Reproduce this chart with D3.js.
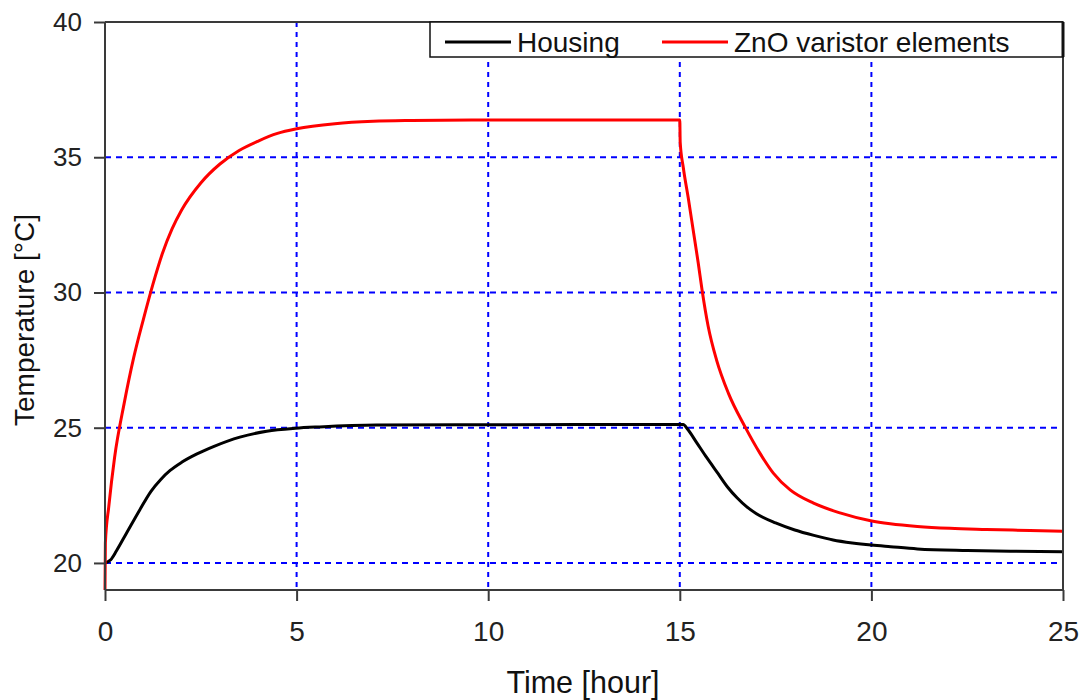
<!DOCTYPE html>
<html>
<head>
<meta charset="utf-8">
<script src="https://cdn.jsdelivr.net/npm/d3@7"></script>
<style>
  html, body { margin: 0; padding: 0; background: #fff; }
  svg { display: block; font-family: Arial, "Liberation Sans", sans-serif; }
</style>
</head>
<body>
<svg id="chart" width="1083" height="700"></svg>
<script>
// Housing temperature (°C) over time (hours)
const housingTime = [0, 0.15, 0.3, 0.56, 0.91, 1.2, 1.45, 1.7, 2.0, 2.4, 2.83, 3.52, 4.22, 4.97, 5.6, 7.08, 10, 15.09,
  15.2, 15.44, 15.7, 16.0, 16.25, 16.5, 16.75, 17.0, 17.5, 18.0, 18.5, 19.0, 19.5, 20.0, 20.5, 21.2, 22.5, 23.7, 25];
const housingTemp = [20.0, 20.12, 20.45, 21.1, 21.97, 22.65, 23.08, 23.42, 23.72, 24.03, 24.3, 24.65, 24.87, 24.98, 25.03, 25.1, 25.11, 25.12,
  24.95, 24.45, 23.9, 23.3, 22.8, 22.4, 22.07, 21.82, 21.48, 21.22, 21.02, 20.85, 20.74, 20.66, 20.6, 20.52, 20.46, 20.43, 20.41];

// ZnO varistor element temperature (°C) over time (hours)
const varistorTime = [0, 0.01, 0.1, 0.25, 0.5, 0.75, 1.0, 1.25, 1.5, 1.75, 2.0, 2.5, 3.0, 3.5, 4.0, 4.5, 5.0, 6.0, 7.0, 8.0, 10, 15.0,
  15.01, 15.09, 15.22, 15.35, 15.48, 15.58, 15.74, 15.96, 16.27, 16.7, 17.09, 17.44, 17.88, 18.49, 19.18, 19.98, 20.49, 21.2, 22.05, 23.0, 24.14, 25];
const varistorTemp = [19.0, 20.74, 22.1, 23.9, 25.9, 27.6, 29.0, 30.3, 31.45, 32.35, 33.05, 34.05, 34.75, 35.25, 35.6, 35.88, 36.05, 36.24, 36.33, 36.36, 36.38, 36.38,
  35.56, 34.63, 33.5, 32.3, 31.1, 30.1, 28.75, 27.5, 26.27, 25.04, 24.06, 23.32, 22.7, 22.21, 21.85, 21.56, 21.45, 21.35, 21.28, 21.24, 21.2, 21.17];

const xTicks = [0, 5, 10, 15, 20, 25];
const yTicks = [20, 25, 30, 35, 40];
const seriesNames = ["Housing", "ZnO varistor elements"];
const seriesColors = ["#000000", "#ff0000"];

const svg = d3.select("#chart");
const margin = { left: 105, top: 22, right: 20, bottom: 110 };
const W = 1083 - margin.left - margin.right;
const H = 700 - margin.top - margin.bottom;

const x = d3.scaleLinear().domain([0, 25]).range([0, W]);
const y = d3.scaleLinear().domain([19, 40]).range([H, 0]);

const g = svg.append("g").attr("transform", `translate(${margin.left},${margin.top})`);
const axisColor = "#3a3a3a";

// dashed blue grid
const grid = g.append("g");
grid.selectAll("line.h").data(yTicks.filter(d => d < 40)).enter().append("line")
  .attr("x1", 0).attr("x2", W).attr("y1", d => y(d)).attr("y2", d => y(d))
  .attr("stroke", "#0000ff").attr("stroke-width", 2).attr("stroke-dasharray", "6,5");
grid.selectAll("line.v").data(xTicks.filter(d => d > 0 && d < 25)).enter().append("line")
  .attr("x1", d => x(d)).attr("x2", d => x(d)).attr("y1", 0).attr("y2", H)
  .attr("stroke", "#0000ff").attr("stroke-width", 2).attr("stroke-dasharray", "5,5");

// temperature curves
const line = d3.line().x(d => x(d[0])).y(d => y(d[1])).curve(d3.curveMonotoneX);
const housing = housingTime.map((t, i) => [t, housingTemp[i]]);
const varistor = varistorTime.map((t, i) => [t, varistorTemp[i]]);

g.append("path").datum(housing).attr("d", line)
  .attr("fill", "none").attr("stroke", seriesColors[0]).attr("stroke-width", 3);
g.append("path").datum(varistor).attr("d", line)
  .attr("fill", "none").attr("stroke", seriesColors[1]).attr("stroke-width", 3);

// axes
const xAxis = d3.axisBottom(x).tickValues(xTicks).tickSize(11).tickSizeOuter(0).tickPadding(20);
const yAxis = d3.axisLeft(y).tickValues(yTicks).tickSize(11).tickSizeOuter(0).tickPadding(12);

const gx = g.append("g").attr("transform", `translate(0,${H})`).call(xAxis);
const gy = g.append("g").call(yAxis);
[gx, gy].forEach(a => {
  a.select(".domain").remove();
  a.selectAll(".tick line").attr("stroke", axisColor).attr("stroke-width", 2);
  a.selectAll(".tick text").attr("fill", "#222").style("font-family", "Arial, 'Liberation Sans', sans-serif");
});
gx.selectAll(".tick text").attr("font-size", 28);
gy.selectAll(".tick text").attr("font-size", 26);

// plot frame
const frame = g.append("g").attr("stroke", axisColor).attr("stroke-width", 2).attr("fill", "none");
frame.append("line").attr("x1", 0).attr("x2", 0).attr("y1", 0).attr("y2", H);
frame.append("line").attr("x1", 0).attr("x2", W).attr("y1", H).attr("y2", H);
frame.append("line").attr("x1", 0).attr("x2", W).attr("y1", 0).attr("y2", 0);
frame.append("line").attr("x1", W).attr("x2", W).attr("y1", 0).attr("y2", H);

// axis titles
svg.append("text").attr("x", margin.left + W / 2 - 1).attr("y", 693)
  .attr("text-anchor", "middle").attr("font-size", 30.5).attr("fill", "#111").text("Time [hour]");
svg.append("text").attr("transform", "translate(34,320) rotate(-90)")
  .attr("text-anchor", "middle").attr("font-size", 28).attr("fill", "#111").text("Temperature [°C]");

// legend
const legX0 = 430 - margin.left, legX1 = W, legH = 35;
const leg = g.append("g");
leg.append("rect").attr("x", legX0).attr("y", 0).attr("width", legX1 - legX0).attr("height", legH)
  .attr("fill", "#fff").attr("stroke", "#111").attr("stroke-width", 1.5);
leg.append("line").attr("x1", legX1).attr("x2", legX1).attr("y1", 0).attr("y2", legH)
  .attr("stroke", "#111").attr("stroke-width", 3);
const legItems = [
  { x0: 445, name: seriesNames[0], color: seriesColors[0] },
  { x0: 662, name: seriesNames[1], color: seriesColors[1] }
];
legItems.forEach(it => {
  leg.append("line").attr("x1", it.x0 - margin.left).attr("x2", it.x0 + 66 - margin.left)
    .attr("y1", 20).attr("y2", 20).attr("stroke", it.color).attr("stroke-width", 3);
  leg.append("text").attr("x", it.x0 + 72 - margin.left).attr("y", 29.5)
    .attr("font-size", 28).attr("fill", "#111").text(it.name);
});
</script>
</body>
</html>
